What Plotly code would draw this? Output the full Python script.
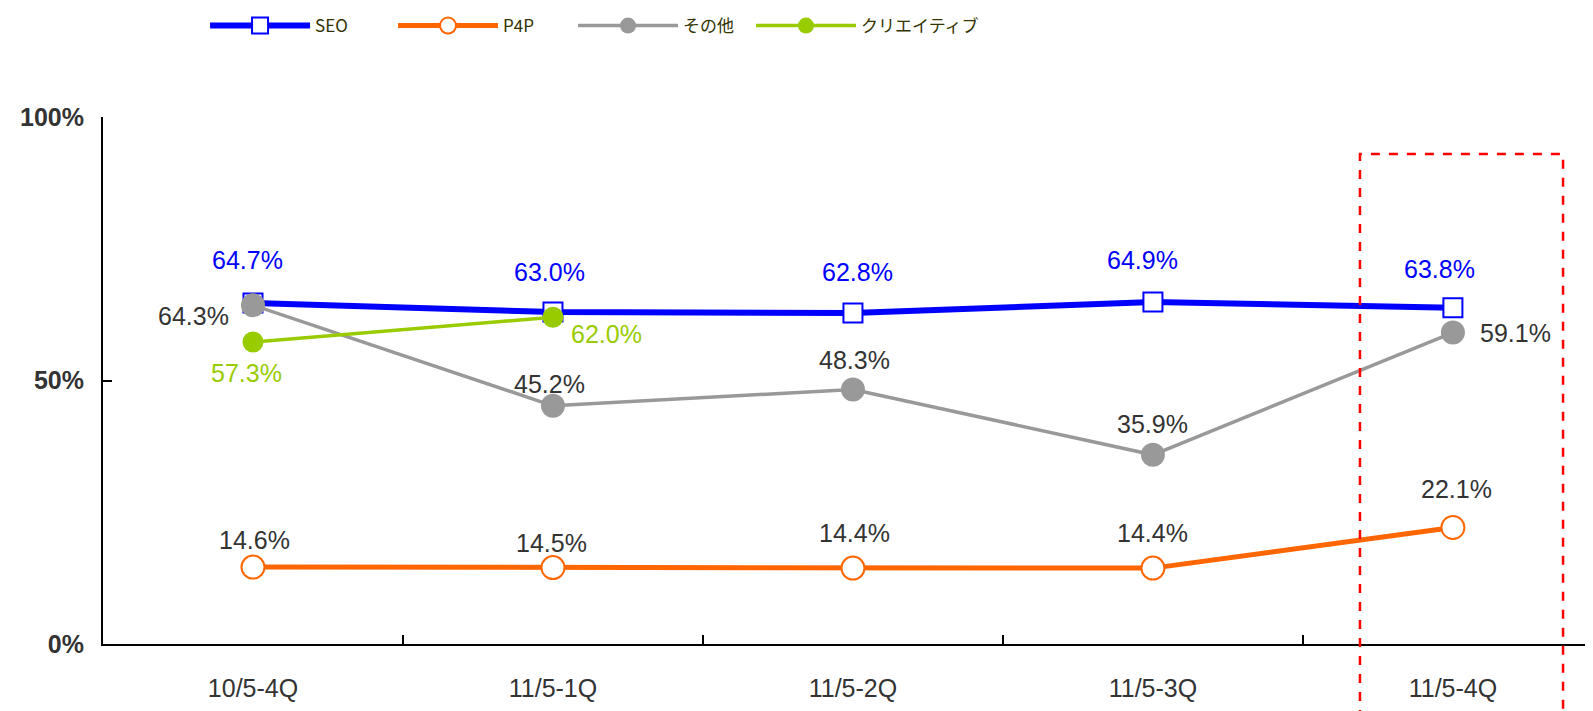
import plotly.graph_objects as go

categories = ["10/5-4Q", "11/5-1Q", "11/5-2Q", "11/5-3Q", "11/5-4Q"]
seo = [64.7, 63.0, 62.8, 64.9, 63.8]
p4p = [14.6, 14.5, 14.4, 14.4, 22.1]
other = [64.3, 45.2, 48.3, 35.9, 59.1]
creative = [57.3, 62.0, None, None, None]

names = ["SEO", "P4P", "その他", "クリエイティブ"]
colors = ["#0000FF", "#FF6600", "#999999", "#99CC00"]
label_colors = ["#0000FF", "#333333", "#333333", "#99CC00"]

# label offsets in px (dx right, dy down)
offsets = {
    0: [(-5, -43), (-3, -40), (5, -41), (-10, -42), (-13, -39)],
    1: [(2, -27), (-1, -25), (2, -35), (0, -35), (4, -39)],
    2: [(-59, 11), (-3, -22), (2, -29), (0, -31), (63, 0)],
    3: [(-6, 31), (54, 17)],
}
legend_x = [0.1237, 0.2417, 0.3547, 0.4664]

fig = go.Figure()

def pct(vals):
    return [None if v is None else v / 100 for v in vals]

fig.add_trace(go.Scatter(x=categories, y=pct(seo), name=names[0], mode="lines+markers", legend="legend",
                         line=dict(color=colors[0], width=6),
                         marker=dict(symbol="square", size=19, color="white",
                                     line=dict(color=colors[0], width=2))))
fig.add_trace(go.Scatter(x=categories, y=pct(p4p), name=names[1], mode="lines+markers", legend="legend2",
                         line=dict(color=colors[1], width=5),
                         marker=dict(symbol="circle", size=23, color="white",
                                     line=dict(color=colors[1], width=2))))
fig.add_trace(go.Scatter(x=categories, y=pct(other), name=names[2], mode="lines+markers", legend="legend3",
                         line=dict(color=colors[2], width=3.5),
                         marker=dict(symbol="circle", size=24, color=colors[2])))
fig.add_trace(go.Scatter(x=categories, y=pct(creative), name=names[3], mode="lines+markers", legend="legend4",
                         line=dict(color=colors[3], width=3.5),
                         marker=dict(symbol="circle", size=21, color=colors[3])))

series = [seo, p4p, other, creative]
for si, vals in enumerate(series):
    for i, v in enumerate(vals):
        if v is None:
            continue
        dx, dy = offsets[si][i]
        fig.add_annotation(x=categories[i], y=v / 100, text=f"{v:.1f}%", showarrow=False,
                           xshift=dx, yshift=-dy, xanchor="center", yanchor="middle",
                           font=dict(family="Liberation Sans, Arial", size=25, color=label_colors[si]))

fig.add_shape(type="rect", xref="paper", yref="paper", x0=0.8436, x1=0.9799, y0=-0.25, y1=0.9298,
              line=dict(color="#FF0000", width=2.5, dash="dash"), fillcolor="rgba(0,0,0,0)", layer="above")

legend_common = dict(orientation="h", xref="container", yref="container", y=1.0,
                     xanchor="left", yanchor="top", itemwidth=100,
                     font=dict(family="Noto Sans CJK JP", size=17, color="#333300"),
                     bgcolor="rgba(0,0,0,0)")
legends = {}
for k, lx in enumerate(legend_x):
    key = "legend" if k == 0 else f"legend{k + 1}"
    legends[key] = dict(legend_common, x=lx)

fig.update_layout(
    width=1593, height=711,
    margin=dict(l=95, r=8, t=109, b=75, autoexpand=False),
    paper_bgcolor="white", plot_bgcolor="white",
    font=dict(family="Liberation Sans, Arial", color="#333333"),
    showlegend=True,
    xaxis=dict(type="category", range=[-0.5, 4.467],
               tickson="boundaries", ticks="inside", ticklen=9, tickcolor="black", tickwidth=1.5,
               showline=True, linecolor="black", linewidth=2, showgrid=False, zeroline=False,
               ticklabelstandoff=21, automargin=False,
               tickfont=dict(family="Liberation Sans, Arial", size=25, color="#333333")),
    yaxis=dict(range=[0, 1], tickmode="array", tickvals=[0, 0.5, 1],
               ticktext=["<b>0%</b>", "<b>50%</b>", "<b>100%</b>"],
               ticks="inside", ticklen=9, tickcolor="black", tickwidth=1.5,
               showline=True, linecolor="black", linewidth=2, showgrid=False, zeroline=False,
               ticklabelstandoff=12, automargin=False,
               tickfont=dict(family="Liberation Sans, Arial", size=25, color="#333333")),
    **legends,
)

fig.write_html("out.html")
